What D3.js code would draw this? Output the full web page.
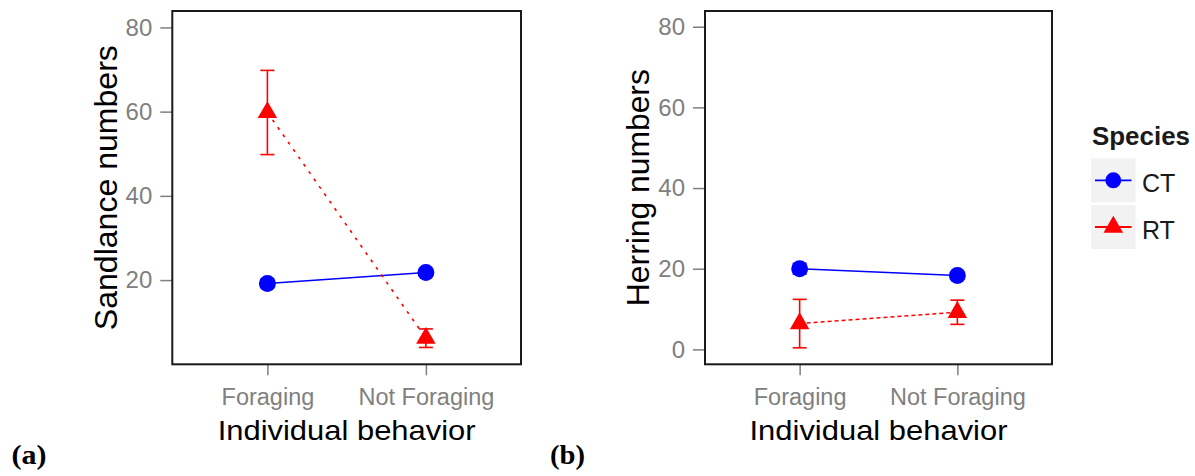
<!DOCTYPE html>
<html>
<head>
<meta charset="utf-8">
<script src="https://cdn.jsdelivr.net/npm/d3@7"></script>
<style>
  body { margin: 0; background: #fff; }
  svg { display: block; font-family: Arial, "Liberation Sans", sans-serif; }
</style>
</head>
<body>
<svg id="chart" width="1195" height="476"></svg>
<script>
// data (mean and error half-width)
var categories = ["Foraging", "Not Foraging"];
var speciesNames = ["CT", "RT"];

var sandCT = [19.2, 21.8];
var sandCTse = [1.0, 0.8];
var sandRT = [59.8, 6.2];
var sandRTse = [10.0, 2.2];

var herrCT = [20.0, 18.3];
var herrCTse = [1.3, 0.8];
var herrRT = [6.4, 9.2];
var herrRTse = [6.0, 3.0];

var sandTicks = [20, 40, 60, 80];
var herrTicks = [0, 20, 40, 60, 80];

var colors = { CT: "#0000ff", RT: "#ff0000" };

var svg = d3.select("#chart");

function drawPanel(opt) {
  var x = d3.scalePoint().domain(categories).range([opt.left, opt.right]).padding(0.6);
  var y = d3.scaleLinear().domain(opt.ydomain).range([opt.bottom, opt.top]);
  var g = svg.append("g");

  // y axis
  var ya = g.append("g")
    .attr("transform", "translate(" + opt.left + ",0)")
    .call(d3.axisLeft(y).tickValues(opt.ticks).tickSize(12).tickPadding(8));
  ya.select(".domain").remove();
  ya.selectAll("line").attr("stroke", "#7f7f7f").attr("stroke-width", 1.5);
  ya.selectAll("text").attr("fill", "#808080").style("font-size", "24px").attr("font-family", null);

  // x axis
  var xa = g.append("g")
    .attr("transform", "translate(0," + opt.bottom + ")")
    .call(d3.axisBottom(x).tickSize(11).tickPadding(13));
  xa.select(".domain").remove();
  xa.selectAll("line").attr("stroke", "#7f7f7f").attr("stroke-width", 1.5);
  xa.selectAll("text").attr("fill", "#808080").style("font-size", "23.5px").attr("font-family", null);

  var series = [
    { name: "CT", vals: opt.ct, se: opt.ctse },
    { name: "RT", vals: opt.rt, se: opt.rtse }
  ];

  var line = d3.line()
    .x(function (d, i) { return x(categories[i]); })
    .y(function (d) { return y(d); });

  // error bars
  series.forEach(function (s) {
    var eb = g.append("g").attr("stroke", colors[s.name]).attr("stroke-width", 1.6);
    s.vals.forEach(function (v, i) {
      var cx = x(categories[i]);
      eb.append("line").attr("x1", cx).attr("x2", cx).attr("y1", y(v - s.se[i])).attr("y2", y(v + s.se[i]));
      eb.append("line").attr("x1", cx - 7).attr("x2", cx + 7).attr("y1", y(v - s.se[i])).attr("y2", y(v - s.se[i]));
      eb.append("line").attr("x1", cx - 7).attr("x2", cx + 7).attr("y1", y(v + s.se[i])).attr("y2", y(v + s.se[i]));
    });
  });

  // lines
  series.forEach(function (s) {
    g.append("path")
      .datum(s.vals)
      .attr("d", line)
      .attr("fill", "none")
      .attr("stroke", colors[s.name])
      .attr("stroke-width", 1.6)
      .attr("stroke-dasharray", s.name == "RT" ? opt.dash : null);
  });

  // points
  series.forEach(function (s) {
    var sym = s.name == "CT" ? d3.symbol(d3.symbolCircle, 225) : d3.symbol(d3.symbolTriangle, 165);
    g.selectAll(".pt-" + s.name)
      .data(s.vals)
      .enter().append("path")
      .attr("transform", function (d, i) { return "translate(" + x(categories[i]) + "," + y(d) + ")"; })
      .attr("d", sym)
      .attr("fill", colors[s.name]);
  });

  // panel border
  g.append("rect")
    .attr("x", opt.left).attr("y", opt.top)
    .attr("width", opt.right - opt.left).attr("height", opt.bottom - opt.top)
    .attr("fill", "none").attr("stroke", "#1a1a1a").attr("stroke-width", 2);

  // axis titles
  g.append("text")
    .attr("x", (opt.left + opt.right) / 2).attr("y", 440)
    .attr("text-anchor", "middle")
    .attr("fill", "#000")
    .style("font-size", "28px")
    .attr("textLength", 258).attr("lengthAdjust", "spacingAndGlyphs")
    .text("Individual behavior");

  g.append("text")
    .attr("transform", "translate(" + opt.ytitleX + "," + (opt.top + opt.bottom) / 2 + ") rotate(-90)")
    .attr("text-anchor", "middle")
    .attr("fill", "#000")
    .style("font-size", "31px")
    .attr("textLength", opt.ytitleLen).attr("lengthAdjust", "spacingAndGlyphs")
    .text(opt.ytitle);

  // panel letter
  svg.append("text")
    .attr("x", opt.letterX).attr("y", 464)
    .attr("font-family", "'Liberation Serif', 'Times New Roman', serif")
    .attr("font-weight", "bold")
    .style("font-size", "27px")
    .attr("textLength", 35).attr("lengthAdjust", "spacingAndGlyphs")
    .text(opt.letter);
}

drawPanel({
  left: 172.3, right: 521, top: 11, bottom: 364.3,
  ydomain: [0, 83.9], ticks: sandTicks,
  ct: sandCT, ctse: sandCTse, rt: sandRT, rtse: sandRTse,
  dash: "3,6",
  ytitle: "Sandlance numbers", ytitleX: 116.5, ytitleLen: 285,
  letter: "(a)", letterX: 11.5
});

drawPanel({
  left: 705, right: 1052, top: 11, bottom: 364.3,
  ydomain: [-3.7, 83.9], ticks: herrTicks,
  ct: herrCT, ctse: herrCTse, rt: herrRT, rtse: herrRTse,
  dash: "4,3",
  ytitle: "Herring numbers", ytitleX: 648.5, ytitleLen: 237,
  letter: "(b)", letterX: 550
});

// legend
var leg = svg.append("g");
leg.append("text")
  .attr("x", 1092).attr("y", 145)
  .attr("font-weight", "bold")
  .attr("fill", "#1a1a1a")
  .style("font-size", "25px")
  .attr("textLength", 98).attr("lengthAdjust", "spacingAndGlyphs")
  .text("Species");

speciesNames.forEach(function (name, i) {
  var ky = 158.3 + i * 46.7;
  leg.append("rect")
    .attr("x", 1091).attr("y", ky).attr("width", 44.5).attr("height", 44)
    .attr("fill", "#f2f2f2");
  leg.append("line")
    .attr("x1", 1095).attr("x2", 1131.5).attr("y1", ky + 22).attr("y2", ky + 22)
    .attr("stroke", colors[name]).attr("stroke-width", 1.8);
  var sym = name == "CT" ? d3.symbol(d3.symbolCircle, 200) : d3.symbol(d3.symbolTriangle, 165);
  leg.append("path")
    .attr("transform", "translate(1113.3," + (ky + 22) + ")")
    .attr("d", sym)
    .attr("fill", colors[name]);
  leg.append("text")
    .attr("x", 1142).attr("y", ky + 33.5)
    .attr("fill", "#1a1a1a")
    .style("font-size", "25px")
    .text(name);
});
</script>
</body>
</html>
